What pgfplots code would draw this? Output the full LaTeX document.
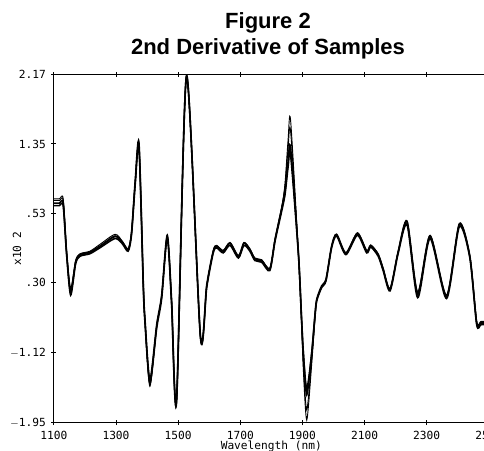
\documentclass[border=0pt]{standalone}
\usepackage{pgfplots}
\pgfplotsset{compat=1.18}
\usepackage{pgfplotstable}
\usepackage{fontspec}
\setmainfont{Liberation Sans}
\newfontfamily\monof{DejaVu Sans Mono}
\pgfplotstableread{
lam s1 s2 s3 s4
1100 0.62 0.65 0.68 0.70
1118 0.62 0.65 0.68 0.70
1130 0.62 0.65 0.68 0.70
1141 0.04 0.06 0.08 0.07
1154 -0.44 -0.40 -0.36 -0.42
1170 -0.07 -0.05 -0.03 -0.04
1184 0.02 0.04 0.05 0.03
1216 0.05 0.07 0.08 0.06
1248 0.12 0.14 0.16 0.13
1297 0.23 0.26 0.28 0.25
1320 0.17 0.19 0.20 0.18
1339 0.08 0.10 0.11 0.09
1350 0.28 0.30 0.31 0.29
1362 0.88 0.92 0.90 0.90
1374 1.31 1.36 1.30 1.34
1388 -0.36 -0.32 -0.34 -0.33
1393 -0.75 -0.71 -0.73 -0.72
1409 -1.48 -1.44 -1.52 -1.50
1431 -0.83 -0.79 -0.80 -0.81
1447 -0.48 -0.44 -0.45 -0.46
1465 0.24 0.27 0.26 0.25
1479 -0.55 -0.51 -0.53 -0.52
1495 -1.70 -1.66 -1.72 -1.68
1527 2.15 2.16 2.14 2.15
1572 -0.95 -0.93 -0.96 -0.94
1592 -0.35 -0.32 -0.34 -0.33
1613 0.06 0.08 0.09 0.07
1624 0.12 0.14 0.15 0.13
1645 0.06 0.08 0.09 0.07
1667 0.15 0.18 0.18 0.17
1694 0.00 0.02 0.03 0.01
1712 0.15 0.18 0.18 0.17
1731 0.08 0.10 0.11 0.09
1747 -0.03 -0.01 0.00 -0.02
1769 -0.05 -0.03 -0.02 -0.04
1795 -0.15 -0.13 -0.12 -0.14
1812 0.20 0.22 0.23 0.21
1833 0.55 0.58 0.60 0.58
1844 0.75 0.79 0.85 0.88
1854 1.08 1.14 1.30 1.40
1862 1.22 1.30 1.50 1.63
1887 0.05 0.07 0.06 0.06
1897 -0.71 -0.69 -0.72 -0.74
1903 -1.13 -1.12 -1.25 -1.32
1914 -1.55 -1.62 -1.80 -1.92
1930 -1.13 -1.12 -1.20 -1.25
1940 -0.71 -0.69 -0.72 -0.74
1946 -0.51 -0.49 -0.50 -0.50
1962 -0.35 -0.33 -0.34 -0.34
1976 -0.27 -0.25 -0.26 -0.26
1994 0.12 0.14 0.14 0.13
2010 0.26 0.28 0.28 0.27
2040 0.04 0.06 0.06 0.05
2077 0.27 0.29 0.30 0.28
2107 0.06 0.08 0.09 0.07
2120 0.13 0.15 0.15 0.14
2144 0.02 0.04 0.05 0.03
2160 -0.15 -0.13 -0.12 -0.14
2182 -0.39 -0.37 -0.36 -0.38
2208 0.05 0.07 0.08 0.06
2237 0.39 0.43 0.44 0.41
2271 -0.47 -0.42 -0.40 -0.44
2311 0.23 0.26 0.27 0.25
2364 -0.48 -0.45 -0.44 -0.46
2405 0.37 0.40 0.41 0.39
2439 0.00 0.02 0.03 0.01
2461 -0.79 -0.77 -0.75 -0.76
2475 -0.79 -0.77 -0.75 -0.76
2500 -0.79 -0.77 -0.75 -0.76
}\spectra
\begin{document}
\begin{tikzpicture}
\path[use as bounding box] (0,0) rectangle (363pt,337.5pt);
\begin{axis}[
  at={(40.4pt,20.5pt)}, anchor=south west,
  width=326.2pt, height=261pt, scale only axis,
  xmin=1100, xmax=2500, ymin=-1.95, ymax=2.17,
  xtick={1100,1300,1500,1700,1900,2100,2300,2500},
  xticklabels={1100,1300,1500,1700,1900,2100,2300,2500},
  ytick={-1.95,-1.12,-0.29,0.53,1.35,2.17},
  yticklabels={$-$1.95,$-$1.12,.30,.53,1.35,2.17},
  /pgf/number format/assume math mode=true,
  tick align=center, major tick length=3.8pt,
  tick style={black, line width=0.7pt},
  axis line style={black, line width=0.9pt},
  ticklabel style={font=\monof\fontsize{8.4}{10}\selectfont},
  xticklabel style={yshift=-1.2pt},
  yticklabel style={xshift=-0.6pt},
  xlabel={Wavelength (nm)},
  xlabel style={at={(axis description cs:0.5,0)}, anchor=base, yshift=-20.1pt, font=\monof\fontsize{8.4}{10}\selectfont},
  ylabel={x10 2},
  ylabel style={at={(axis description cs:-0.0849,0.5)}, anchor=center, font=\monof\fontsize{8.4}{10}\selectfont},
  clip=true,
]
\addplot[black, line width=1.2pt, smooth, tension=0.45] table[x=lam, y=s1] {\spectra};
\addplot[black, line width=1.2pt, smooth, tension=0.45] table[x=lam, y=s2] {\spectra};
\addplot[black, line width=0.7pt, smooth, tension=0.45] table[x=lam, y=s3] {\spectra};
\addplot[black, line width=0.7pt, smooth, tension=0.45] table[x=lam, y=s4] {\spectra};
\end{axis}
\node[anchor=base, font=\bfseries\fontsize{16.5}{20}\selectfont] at (201pt,315.75pt) {Figure 2};
\node[anchor=base, font=\bfseries\fontsize{16.5}{20}\selectfont] at (201pt,296.25pt) {2nd Derivative of Samples};
\end{tikzpicture}
\end{document}
